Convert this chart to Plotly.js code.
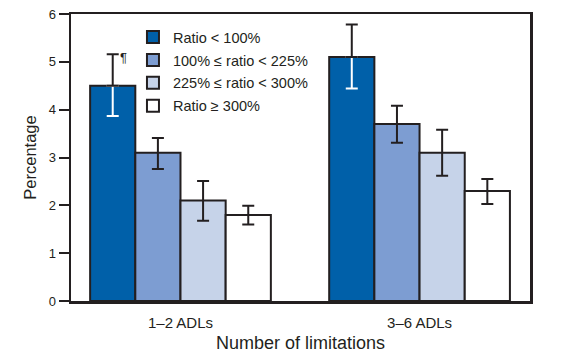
<!DOCTYPE html>
<html>
<head>
<meta charset="utf-8">
<script src="https://cdn.plot.ly/plotly-3.0.1.min.js"></script>
<style>html,body{margin:0;padding:0;background:#fff;}#chart{width:567px;height:363px;}</style>
</head>
<body>
<div id="chart"></div>
<script>
const categories = ['1–2 ADLs', '3–6 ADLs'];
const seriesNames = ['Ratio < 100%', '100% ≤ ratio < 225%', '225% ≤ ratio < 300%', 'Ratio ≥ 300%'];
const ratioLt100 = [4.5, 5.1];
const ratioLt100Upper = [5.16, 5.78];
const ratioLt100Lower = [3.87, 4.44];
const ratio100to225 = [3.1, 3.7];
const ratio100to225Upper = [3.41, 4.08];
const ratio100to225Lower = [2.76, 3.31];
const ratio225to300 = [2.1, 3.1];
const ratio225to300Upper = [2.51, 3.58];
const ratio225to300Lower = [1.68, 2.62];
const ratioGe300 = [1.8, 2.3];
const ratioGe300Upper = [1.99, 2.55];
const ratioGe300Lower = [1.60, 2.03];
const yTicks = [0, 1, 2, 3, 4, 5, 6];

const ink = '#231f20';
const colors = ['#0060a9', '#7d9dd2', '#c6d3e9', '#ffffff'];
const values = [ratioLt100, ratio100to225, ratio225to300, ratioGe300];
const uppers = [ratioLt100Upper, ratio100to225Upper, ratio225to300Upper, ratioGe300Upper];
const lowers = [ratioLt100Lower, ratio100to225Lower, ratio225to300Lower, ratioGe300Lower];
const barW = 0.189;
const offsets = [-2 * barW, -barW, 0, barW];

const traces = [];
values.forEach((v, i) => {
  const t = {
    type: 'bar', x: categories, y: v, name: seriesNames[i],
    width: barW, offset: offsets[i], legendgroup: 'g' + i,
    marker: {color: colors[i], line: {color: ink, width: 2}}
  };
  if (i > 0) {
    t.error_y = {
      type: 'data', symmetric: false,
      array: v.map((d, k) => uppers[i][k] - d),
      arrayminus: v.map((d, k) => d - lowers[i][k]),
      color: ink, thickness: 2, width: 6
    };
  }
  traces.push(t);
});
// white lower whisker inside the dark bar
traces.push({
  type: 'bar', x: categories, y: ratioLt100, width: barW, offset: offsets[0],
  showlegend: false, legendgroup: 'g0', marker: {color: 'rgba(0,0,0,0)', line: {width: 0}},
  error_y: {type: 'data', symmetric: false, array: [0, 0],
    arrayminus: ratioLt100.map((d, k) => d - ratioLt100Lower[k]),
    color: '#ffffff', thickness: 2, width: 6}
});
// black upper whisker above the dark bar
traces.push({
  type: 'bar', x: categories, y: ratioLt100, width: barW, offset: offsets[0],
  showlegend: false, legendgroup: 'g0', marker: {color: 'rgba(0,0,0,0)', line: {width: 0}},
  error_y: {type: 'data', symmetric: false,
    array: ratioLt100.map((d, k) => ratioLt100Upper[k] - d), arrayminus: [0, 0],
    color: ink, thickness: 2, width: 6}
});

const font = 'Liberation Sans, Arial, Helvetica, sans-serif';
const layout = {
  width: 567, height: 363,
  margin: {l: 71, r: 37, t: 14, b: 62},
  barmode: 'overlay',
  showlegend: true,
  font: {family: font, size: 13, color: ink},
  xaxis: {
    type: 'category', range: [-0.458, 1.462],
    showline: true, linecolor: ink, linewidth: 2.5, mirror: true,
    ticks: 'outside', ticklen: 6, tickcolor: 'rgba(0,0,0,0)',
    showgrid: false, zeroline: false,
    tickfont: {family: font, size: 15, color: ink},
    title: {text: 'Number of limitations', font: {family: font, size: 18, color: ink}, standoff: 7}
  },
  yaxis: {
    range: [0, 6], tickvals: yTicks,
    showline: true, linecolor: ink, linewidth: 2.5, mirror: true,
    ticks: 'outside', ticklen: 10, tickwidth: 2, tickcolor: ink,
    showgrid: false, zeroline: false,
    tickfont: {family: font, size: 13, color: ink},
    title: {text: 'Percentage', font: {family: font, size: 16.5, color: ink}, standoff: 8}
  },
  legend: {
    x: 0.135, y: 0.975, xanchor: 'left', yanchor: 'top',
    bgcolor: 'rgba(0,0,0,0)', traceorder: 'grouped', tracegroupgap: 1,
    font: {family: font, size: 14.5, color: ink}
  },
  annotations: [{
    x: -0.262, y: 5.1, xref: 'x', yref: 'y', text: '¶', showarrow: false,
    xanchor: 'left', yanchor: 'middle', font: {family: font, size: 13, color: ink}
  }]
};
Plotly.newPlot('chart', traces, layout, {displayModeBar: false, staticPlot: true});
</script>
</body>
</html>
